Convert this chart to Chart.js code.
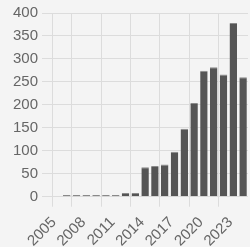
<!DOCTYPE html>
<html>
<head>
<meta charset="utf-8">
<script src="https://cdn.jsdelivr.net/npm/chart.js@4"></script>
<style>
  html, body { margin: 0; padding: 0; background: #f4f4f4; overflow: hidden; width: 250px; height: 247px; }
  #wrap { width: 260px; height: 254px; }
  canvas { display: block; }
</style>
</head>
<body>
<div id="wrap"><canvas id="c" width="260" height="254"></canvas></div>
<script>
const years = ['2005','2006','2007','2008','2009','2010','2011','2012','2013','2014','2015','2016','2017','2018','2019','2020','2021','2022','2023','2024'];
const counts = [1, 4, 4, 4, 4, 4, 4, 8, 8, 64, 67, 70, 98, 148, 204, 274, 282, 266, 378, 260];
const yTicks = [0, 50, 100, 150, 200, 250, 300, 350, 400];

const gridColor = '#dcdcdc';
const font = { family: '"Liberation Sans", Arial, sans-serif', size: 15 };

new Chart(document.getElementById('c'), {
  type: 'bar',
  data: {
    labels: years,
    datasets: [{
      data: counts,
      backgroundColor: '#555555',
      borderColor: '#8a8a8a',
      borderWidth: { top: 1, left: 0, right: 0, bottom: 0 },
      barPercentage: 0.9,
      categoryPercentage: 0.85
    }]
  },
  options: {
    responsive: false,
    animation: false,
    layout: { padding: { left: 9, top: 7, right: 7, bottom: 0 } },
    plugins: { legend: { display: false }, tooltip: { enabled: false } },
    scales: {
      x: {
        grid: {
          offset: true,
          tickLength: 10,
          color: (ctx) => (ctx.index === 0 || ctx.index % 3 === 2) ? gridColor : 'rgba(0,0,0,0)'
        },
        border: { color: gridColor },
        ticks: {
          autoSkip: false,
          minRotation: 45,
          maxRotation: 45,
          padding: 4,
          color: '#666',
          font: font,
          callback: function(v, i) { return i % 3 === 0 ? years[i] + ' ' : ''; }
        }
      },
      y: {
        min: 0,
        max: 400,
        afterBuildTicks: (axis) => { axis.ticks = yTicks.map(v => ({ value: v })); },
        grid: { color: gridColor, tickLength: 10 },
        border: { color: gridColor },
        ticks: { color: '#666', font: font, padding: 4 }
      }
    }
  }
});
</script>
</body>
</html>
